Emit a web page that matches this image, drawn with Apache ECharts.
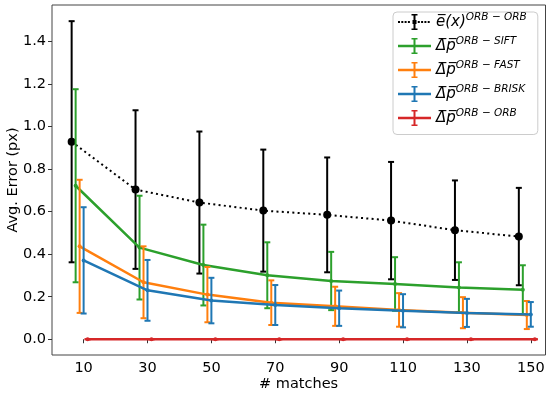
<!DOCTYPE html>
<html><head><meta charset="utf-8">
<script src="https://cdn.jsdelivr.net/npm/echarts@6/dist/echarts.min.js"></script>
<style>html,body{margin:0;padding:0;background:#fff}#c{width:550px;height:394px}</style>
</head><body><div id="c"></div>
<script>
// ---- data ----
const matches   = [10, 30, 50, 70, 90, 110, 130, 150];
const xTicks    = [10, 30, 50, 70, 90, 110, 130, 150];
const yTicks    = [0, 0.2, 0.4, 0.6, 0.8, 1.0, 1.2, 1.4];
const eOrbMean  = [0.929, 0.704, 0.643, 0.605, 0.585, 0.558, 0.513, 0.483];
const eOrbStd   = [0.567, 0.373, 0.334, 0.287, 0.270, 0.276, 0.234, 0.229];
const siftMean  = [0.722, 0.431, 0.349, 0.301, 0.274, 0.260, 0.244, 0.233];
const siftStd   = [0.454, 0.244, 0.190, 0.155, 0.137, 0.126, 0.118, 0.115];
const fastMean  = [0.437, 0.268, 0.210, 0.172, 0.155, 0.138, 0.125, 0.114];
const fastStd   = [0.313, 0.169, 0.130, 0.105, 0.092, 0.079, 0.073, 0.066];
const briskMean = [0.371, 0.230, 0.182, 0.161, 0.146, 0.134, 0.124, 0.117];
const briskStd  = [0.250, 0.143, 0.107, 0.094, 0.083, 0.078, 0.066, 0.058];
const orbMean   = [0, 0, 0, 0, 0, 0, 0, 0];
const orbStd    = [0, 0, 0, 0, 0, 0, 0, 0];
const xTitle = '# matches';
const yTitle = 'Avg. Error (px)';

const FONT = 'DejaVu Sans';
const groups = [
  {id:'eorb',  mean:eOrbMean,  std:eOrbStd,  color:'#000000', dx:-3.75, dotted:true,
   label:'{m|e\u0305(x)}{s|ORB \u2212 ORB}'},
  {id:'sift',  mean:siftMean,  std:siftStd,  color:'#2ca02c', dx:-2.5,
   label:'{m|\u0394\u0305p\u0305}{s|ORB \u2212 SIFT}'},
  {id:'fast',  mean:fastMean,  std:fastStd,  color:'#ff7f0e', dx:-1.25,
   label:'{m|\u0394\u0305p\u0305}{s|ORB \u2212 FAST}'},
  {id:'brisk', mean:briskMean, std:briskStd, color:'#1f77b4', dx:0,
   label:'{m|\u0394\u0305p\u0305}{s|ORB \u2212 BRISK}'},
  {id:'orb',   mean:orbMean,   std:orbStd,   color:'#d62728', dx:1.25,
   label:'{m|\u0394\u0305p\u0305}{s|ORB \u2212 ORB}'}
];

const series = [];
groups.forEach((g, k) => {
  series.push({
    type:'custom', name:g.id + '_err', z: 2 + 2*k, silent:true,
    encode:{x:0, y:[1,2]},
    data: matches.map((m,i) => [m + g.dx, g.mean[i] - g.std[i], g.mean[i] + g.std[i]]),
    renderItem: (params, api) => {
      const x = api.value(0);
      const pt = api.coord([x, api.value(2)]);
      const pb = api.coord([x, api.value(1)]);
      const cw = 3, st = {stroke:g.color, lineWidth:2};
      return {type:'group', children:[
        {type:'line', shape:{x1:pt[0], y1:pt[1], x2:pb[0], y2:pb[1]}, style:st},
        {type:'line', shape:{x1:pt[0]-cw, y1:pt[1], x2:pt[0]+cw, y2:pt[1]}, style:st},
        {type:'line', shape:{x1:pb[0]-cw, y1:pb[1], x2:pb[0]+cw, y2:pb[1]}, style:st}
      ]};
    }
  });
  series.push({
    type:'line', name:g.id, z: 3 + 2*k,
    data: matches.map((m,i) => [m + g.dx, g.mean[i]]),
    symbol:'circle', symbolSize: g.dotted ? 8 : 4, showSymbol:true,
    itemStyle:{color:g.color},
    lineStyle: g.dotted ? {color:g.color, width:2, type:[2,3.3]} : {color:g.color, width:2.5},
    emphasis:{disabled:true}
  });
});

const barIcon = 'path://M0,6.75h33v2.5h-33z M15.5,0h2v16h-2z M13.5,0h6v1.5h-6z M13.5,14.5h6v1.5h-6z';
let dots = '';
for (let x = 0; x < 33; x += 3.3) { if (x > 12 && x < 19) continue; dots += 'M' + x.toFixed(2) + ',7h2v2h-2z '; }
const dotIcon = 'path://M0,0h0.01v0.01h-0.01z M32.99,15.99h0.01v0.01h-0.01z ' + dots + 'M14.5,6h4v4h-4z M15.5,0h2v16h-2z M13.5,0h6v1.5h-6z M13.5,14.5h6v1.5h-6z';

const labelMap = {};
groups.forEach(g => labelMap[g.id] = g.label);

const axisCol = '#333';
const option = {
  animation:false,
  backgroundColor:'#fff',
  grid:{left:52, right:4.5, top:5, bottom:39, show:true, borderColor:'#444', borderWidth:1,
        backgroundColor:'transparent', containLabel:false, outerBoundsMode:'none'},
  xAxis:{
    type:'value', min:0.1, max:154.6,
    axisLine:{show:false},
    axisTick:{show:true, length:4, lineStyle:{color:axisCol}, customValues:xTicks},
    axisLabel:{fontFamily:FONT, fontSize:14.5, color:'#000', margin:6, customValues:xTicks},
    splitLine:{show:false}
  },
  yAxis:{
    type:'value', min:-0.074, max:1.572,
    axisLine:{show:false},
    axisTick:{show:true, length:4, lineStyle:{color:axisCol}, customValues:yTicks},
    axisLabel:{fontFamily:FONT, fontSize:14.5, color:'#000', margin:6, customValues:yTicks,
      formatter: v => v.toFixed(1)},
    splitLine:{show:false}
  },
  graphic:[
    {type:'text', x:298.6, y:384, silent:true,
     style:{text:xTitle, fontFamily:FONT, fontSize:14.5, fill:'#000', align:'center', verticalAlign:'middle'}},
    {type:'text', x:13, y:180, rotation:Math.PI/2, silent:true,
     style:{text:yTitle, fontFamily:FONT, fontSize:14.5, fill:'#000', align:'center', verticalAlign:'middle'}}
  ],
  legend:{
    orient:'vertical', left:393, top:12,
    padding:[0, 11, 8.5, 5], itemGap:6, itemWidth:33, itemHeight:16, itemTextGap:10,
    backgroundColor:'rgba(255,255,255,0.8)', borderColor:'#cccccc', borderWidth:1, borderRadius:4,
    selectedMode:false,
    data: groups.map(g => ({name:g.id, icon: g.dotted ? dotIcon : barIcon,
      itemStyle:{color:g.color, borderWidth:0, opacity:1}})),
    formatter: name => labelMap[name],
    textStyle:{
      color:'#000',
      rich:{
        m:{fontFamily:FONT, fontStyle:'italic', fontSize:15, lineHeight:20, color:'#000'},
        s:{fontFamily:FONT, fontStyle:'italic', fontSize:10.5, lineHeight:14, verticalAlign:'top', color:'#000'}
      }
    }
  },
  series: series
};
const chart = echarts.init(document.getElementById('c'), null, {renderer:'canvas'});
chart.setOption(option);
</script></body></html>
